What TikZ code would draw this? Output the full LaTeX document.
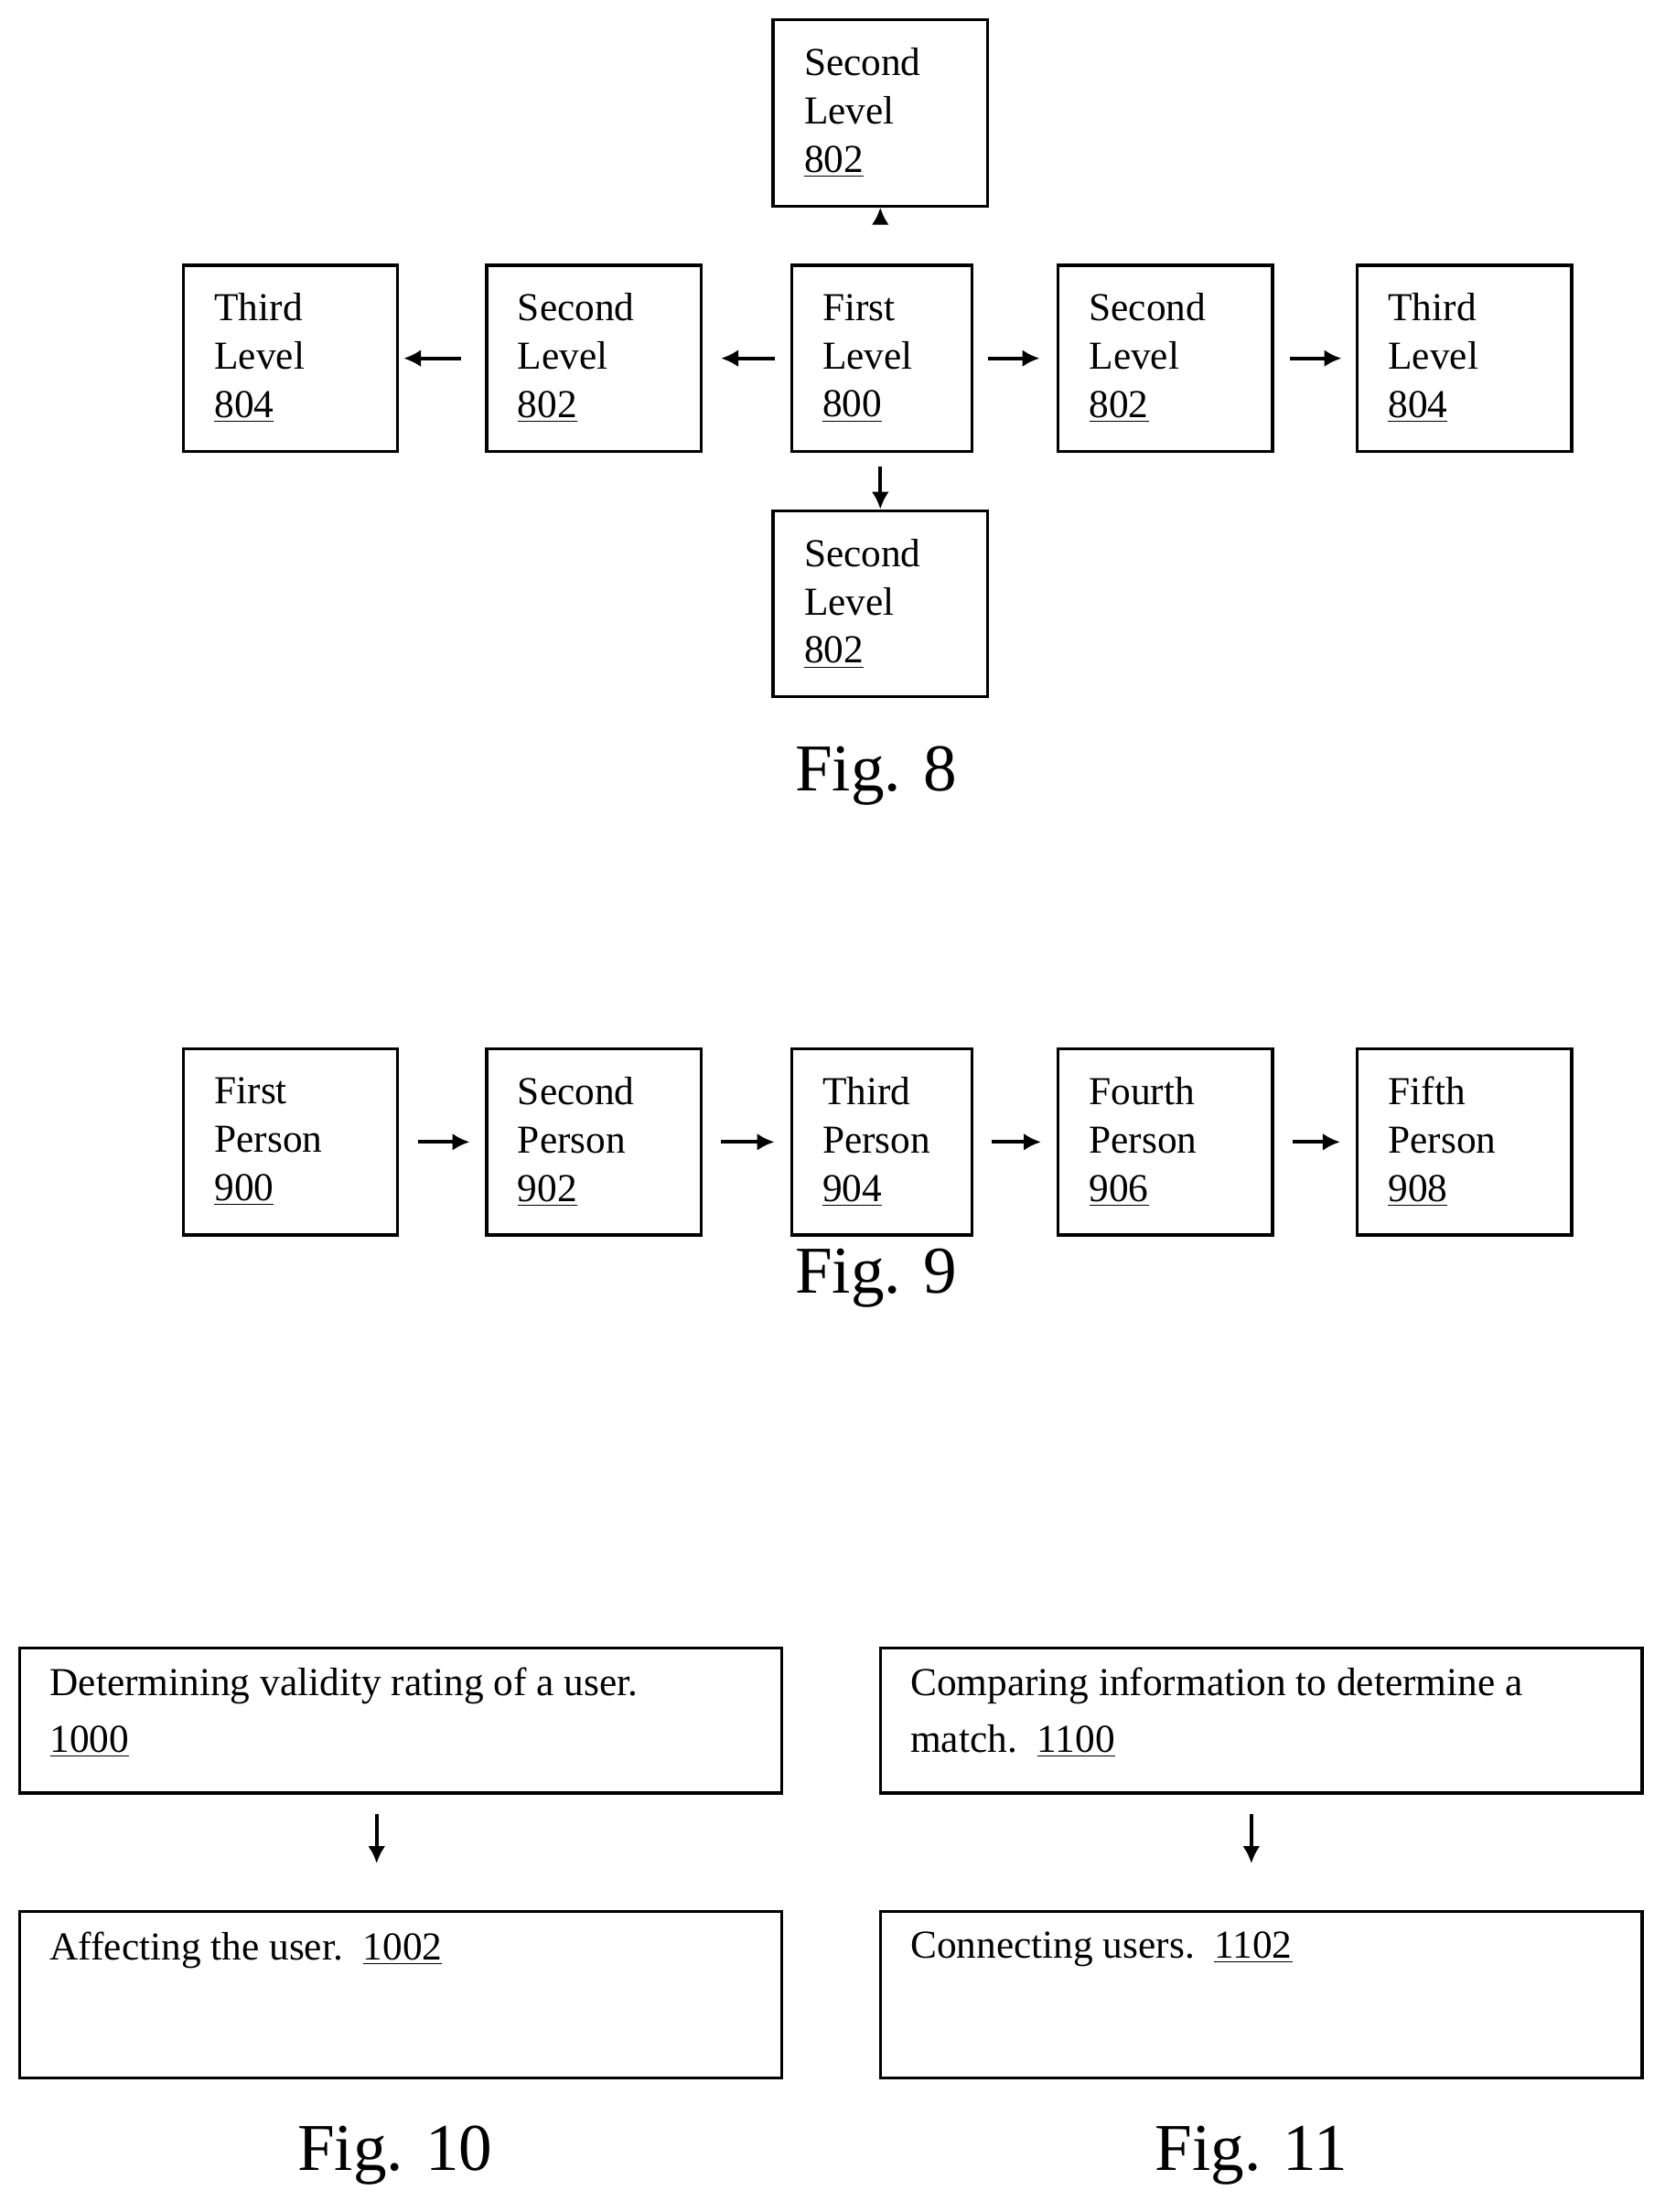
\documentclass[tikz,border=0pt]{standalone}
\usepackage{fontspec}
\setmainfont{Liberation Serif}
\usetikzlibrary{arrows.meta}
\tikzset{
  lvl/.style={draw, line width=1.2pt, minimum height=2.64cm, inner xsep=0.44cm,
              align=left, font=\fontsize{16}{19.5}\selectfont},
  wide/.style={lvl, text width=2.16cm},
  narrow/.style={lvl, text width=1.68cm},
  stepbox/.style={draw, line width=1.2pt, minimum width=10.8cm},
  txt/.style={anchor=north west, align=left, inner sep=0pt, font=\fontsize{16}{22.7}\selectfont},
  arr/.style={-{Latex[length=7pt,width=7pt]}, line width=1.5pt},
  fig/.style={font=\fontsize{27}{30}\selectfont}
}
\newcommand{\num}[1]{\underline{#1}}
\begin{document}
\begin{tikzpicture}[x=0.02cm, y=-0.02cm]
\useasboundingbox (0,0) rectangle (1180,1568);
% Fig. 8
\node[narrow] (first) at (625,254) {First\\Level\\\num{800}};
\node[wide] (secU) at (624,80) {Second\\Level\\\num{802}};
\node[wide] (secD) at (624,428) {Second\\Level\\\num{802}};
\node[wide] (secL) at (421,254) {Second\\Level\\\num{802}};
\node[wide] (secR) at (826,254) {Second\\Level\\\num{802}};
\node[wide] (thiL) at (206,254) {Third\\Level\\\num{804}};
\node[wide] (thiR) at (1038,254) {Third\\Level\\\num{804}};
\draw[arr] ([yshift=0.68cm]first.north -| secU.south) -- (secU.south);
\draw[arr] ([yshift=-0.2cm]first.south -| secD.north) -- (secD.north);
\draw[arr] ([xshift=-0.22cm]first.west) -- ([xshift=0.26cm]secL.east);
\draw[arr] ([xshift=-0.34cm]secL.west) -- ([xshift=0.06cm]thiL.east);
\draw[arr] ([xshift=0.2cm]first.east) -- ([xshift=-0.24cm]secR.west);
\draw[arr] ([xshift=0.22cm]secR.east) -- ([xshift=-0.2cm]thiR.west);
\node[fig] (f8) at (621,550) {Fig. 8};
% Fig. 9
\node[wide] (p1) at (206,809.5) {First\\Person\\\num{900}};
\node[wide] (p2) at (421,809.5) {Second\\Person\\\num{902}};
\node[narrow] (p3) at (625,809.5) {Third\\Person\\\num{904}};
\node[wide] (p4) at (826,809.5) {Fourth\\Person\\\num{906}};
\node[wide] (p5) at (1038,809.5) {Fifth\\Person\\\num{908}};
\foreach \a/\b in {p1/p2,p2/p3,p3/p4,p4/p5}
  \draw[arr] ([xshift=0.26cm]\a.east) -- ([xshift=-0.22cm]\b.west);
\node[fig] (f9) at (621,906) {Fig. 9};
% Fig. 10
\node[stepbox, minimum height=2.06cm] (s1000) at (284,1219.5) {};
\node[stepbox, minimum height=2.36cm] (s1002) at (284,1414) {};
\node[txt] at ([xshift=0.44cm,yshift=-0.3cm]s1000.north west) {Determining validity rating of a user.\\\num{1000}};
\node[txt] at ([xshift=0.44cm,yshift=-0.3cm]s1002.north west) {Affecting the user.\ \ \num{1002}};
\draw[arr] ([xshift=-0.34cm,yshift=-0.28cm]s1000.south) -- ([xshift=-0.34cm,yshift=0.66cm]s1002.north);
\node[fig] (f10) at (280,1528) {Fig. 10};
% Fig. 11
\node[stepbox, minimum height=2.06cm] (s1100) at (894,1219.5) {};
\node[stepbox, minimum height=2.36cm] (s1102) at (894,1414) {};
\node[txt] at ([xshift=0.44cm,yshift=-0.3cm]s1100.north west) {Comparing information to determine a\\match.\ \ \num{1100}};
\node[txt] at ([xshift=0.44cm,yshift=-0.3cm]s1102.north west) {Connecting users.\ \ \num{1102}};
\draw[arr] ([xshift=-0.14cm,yshift=-0.28cm]s1100.south) -- ([xshift=-0.14cm,yshift=0.66cm]s1102.north);
\node[fig] (f11) at (887,1528) {Fig. 11};
\end{tikzpicture}
\end{document}
